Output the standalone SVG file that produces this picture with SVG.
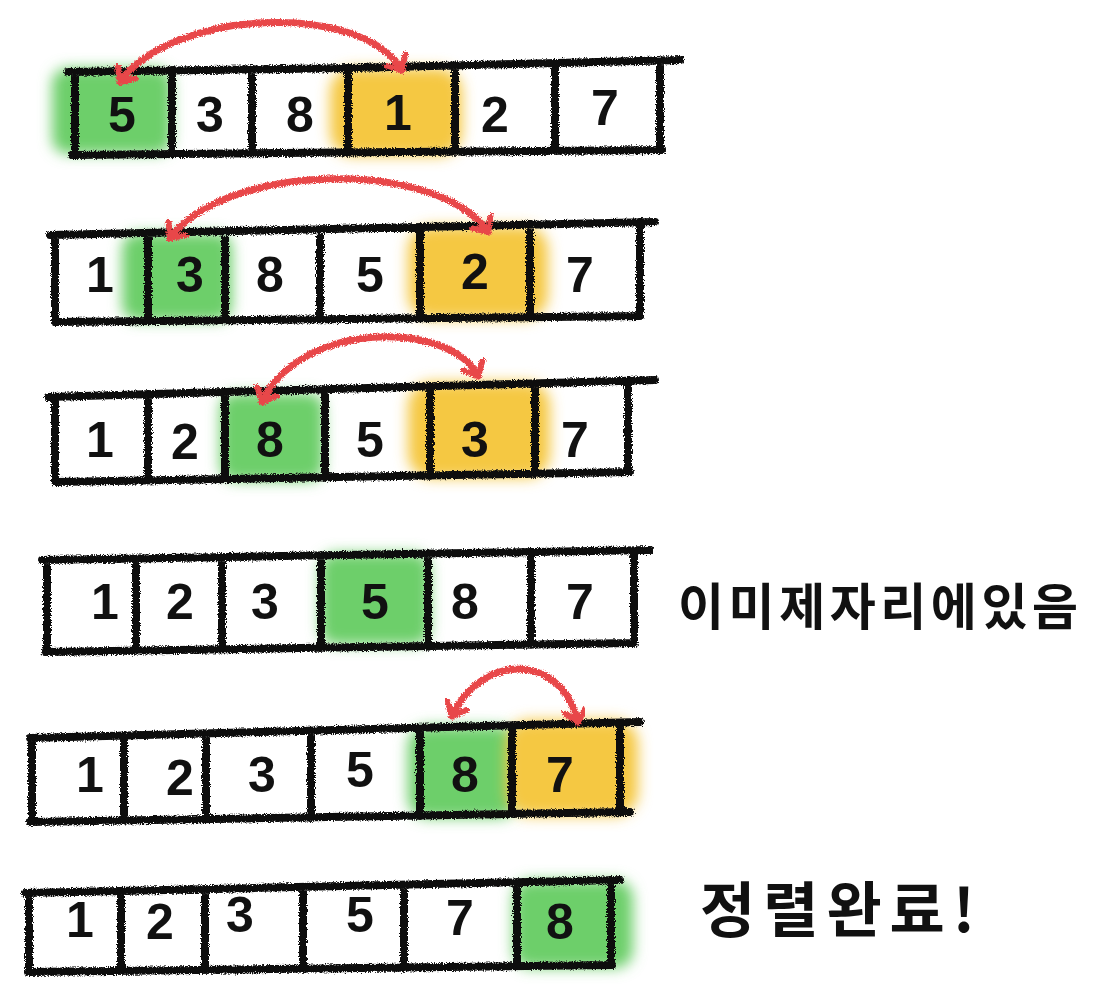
<svg xmlns="http://www.w3.org/2000/svg" width="1101" height="997" viewBox="0 0 1101 997">
<defs>
<filter id="rough" x="-5%" y="-20%" width="110%" height="140%">
<feTurbulence type="fractalNoise" baseFrequency="0.9" numOctaves="2" seed="3" result="n"/>
<feDisplacementMap in="SourceGraphic" in2="n" scale="5" xChannelSelector="R" yChannelSelector="G"/>
</filter>
<filter id="blur" x="-30%" y="-30%" width="160%" height="160%">
<feGaussianBlur stdDeviation="7"/>
</filter>
<marker id="ah" viewBox="-14 -14 28 28" markerWidth="28" markerHeight="28" markerUnits="userSpaceOnUse" refX="0" refY="0" orient="auto-start-reverse">
<path d="M -12 -11 L 0 0 L -12 11" fill="none" stroke="#e8474a" stroke-width="6" stroke-linecap="round" stroke-linejoin="round"/>
</marker>
</defs>
<style>
.frame{fill:none;stroke:#111;stroke-width:8;stroke-linecap:round;stroke-linejoin:round;filter:url(#rough)}
.num{font-family:"Liberation Sans","DejaVu Sans",sans-serif;font-weight:bold;font-size:50px;fill:#111;text-anchor:middle;dominant-baseline:central}
.g{fill:#6dcf6a;filter:url(#blur)}
.y{fill:#f5c842;filter:url(#blur)}
.arr{fill:none;stroke:#e8474a;stroke-width:7;stroke-linecap:round;filter:url(#rough);marker-start:url(#ah);marker-end:url(#ah)}
.note{font-family:"Noto Sans CJK KR","Noto Sans",sans-serif;font-weight:bold;fill:#111;dominant-baseline:central}
</style>
<rect width="1101" height="997" fill="#fff"/>

<g id="row1">
<rect class="g" x="52" y="68" width="120" height="86" rx="16"/>
<rect class="y" x="330" y="68" width="132" height="88" rx="24"/>
<path class="frame" d="M68 72 L350 68 L680 60 M72 155 L400 152 L662 150 M75 72 L75 155 M172 70 L172 154 M252 69 L252 153 M348 68 L348 153 M455 66 L455 152 M555 63 L555 151 M660 61 L660 150"/>
<text class="num" x="122" y="115">5</text><text class="num" x="210" y="115">3</text><text class="num" x="300" y="115">8</text><text class="num" x="398" y="113">1</text><text class="num" x="495" y="115">2</text><text class="num" x="605" y="108">7</text>
</g>

<g id="row2">
<rect class="g" x="122" y="233" width="110" height="88" rx="16"/>
<rect class="y" x="408" y="226" width="140" height="93" rx="24"/>
<path class="frame" d="M50 235 L655 222 M55 322 L640 316 M55 235 L55 322 M148 233 L148 321 M225 231 L225 320 M320 229 L320 319 M420 227 L420 318 M530 224 L530 317 M640 222 L640 316"/>
<text class="num" x="100" y="275">1</text><text class="num" x="190" y="275">3</text><text class="num" x="270" y="275">8</text><text class="num" x="370" y="275">5</text><text class="num" x="475" y="272">2</text><text class="num" x="580" y="275">7</text>
</g>

<g id="row3">
<rect class="g" x="220" y="393" width="104" height="88" rx="16"/>
<rect class="y" x="408" y="382" width="142" height="96" rx="24"/>
<path class="frame" d="M48 397 L655 380 M55 482 L630 472 M55 397 L55 482 M148 394 L148 480 M225 392 L225 479 M325 389 L325 478 M430 386 L430 476 M535 383 L535 474 M628 381 L628 472"/>
<text class="num" x="100" y="440">1</text><text class="num" x="185" y="442">2</text><text class="num" x="270" y="440">8</text><text class="num" x="370" y="440">5</text><text class="num" x="475" y="440">3</text><text class="num" x="575" y="440">7</text>
</g>

<g id="row4">
<rect class="g" x="320" y="553" width="110" height="92" rx="16"/>
<path class="frame" d="M42 560 L650 550 M45 652 L632 643 M47 560 L47 652 M136 559 L136 650 M222 557 L222 649 M321 556 L321 648 M428 554 L428 647 M531 552 L531 645 M634 551 L634 643"/>
<text class="num" x="105" y="602">1</text><text class="num" x="180" y="602">2</text><text class="num" x="265" y="602">3</text><text class="num" x="375" y="602">5</text><text class="num" x="465" y="602">8</text><text class="num" x="580" y="602">7</text>
</g>
<g id="note1"><text class="note" x="678" y="603" font-size="50" textLength="400" lengthAdjust="spacing">이미제자리에있음</text></g>

<g id="row5">
<rect class="g" x="408" y="726" width="110" height="92" rx="20"/>
<rect class="y" x="506" y="720" width="132" height="96" rx="24"/>
<path class="frame" d="M30 738 L640 722 M30 822 L630 812 M32 738 L32 822 M124 736 L124 820 M206 734 L206 819 M311 731 L311 818 M420 728 L420 816 M512 726 L512 814 M620 723 L620 812"/>
<text class="num" x="90" y="775">1</text><text class="num" x="180" y="778">2</text><text class="num" x="262" y="775">3</text><text class="num" x="360" y="770">5</text><text class="num" x="465" y="775">8</text><text class="num" x="560" y="775">7</text>
</g>

<g id="row6">
<rect class="g" x="513" y="880" width="120" height="88" rx="18"/>
<path class="frame" d="M25 893 L620 880 M28 972 L612 965 M29 893 L29 972 M121 891 L121 971 M205 889 L205 970 M303 887 L303 969 M404 885 L404 968 M517 882 L517 966 M611 880 L611 965"/>
<text class="num" x="80" y="920">1</text><text class="num" x="160" y="922">2</text><text class="num" x="240" y="915">3</text><text class="num" x="360" y="915">5</text><text class="num" x="460" y="918">7</text><text class="num" x="560" y="922">8</text>
</g>
<g id="note2"><text class="note" x="700" y="905" font-size="60" textLength="275" lengthAdjust="spacing">정렬완료!</text></g>

<g id="connectors">
<path class="arr" d="M120 82 C 170 10, 360 0, 402 70"/>
<path class="arr" d="M170 238 C 230 160, 440 160, 488 232"/>
<path class="arr" d="M262 402 C 300 320, 450 320, 478 376"/>
<path class="arr" d="M452 716 C 480 655, 560 650, 578 722"/>
</g>
</svg>
